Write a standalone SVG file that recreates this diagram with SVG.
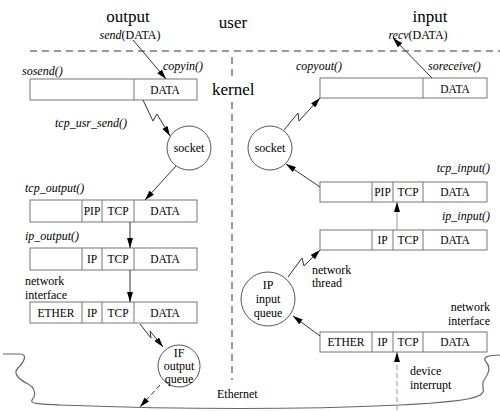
<svg xmlns="http://www.w3.org/2000/svg" width="500" height="411" viewBox="0 0 500 411">
<defs>
<marker id="ah" viewBox="0 0 10 6" refX="10" refY="3" markerWidth="10" markerHeight="6" markerUnits="userSpaceOnUse" orient="auto">
<path d="M0,0 L10,3 L0,6 z" fill="#000"/>
</marker>
<style>
text{font-family:"Liberation Serif","DejaVu Serif",serif;fill:#000}
.big{font-size:17px}
.lab{font-size:12px;font-style:italic}
.n{font-style:normal}
.t{font-size:12px}
.bx{font-size:11.5px;text-anchor:middle}
.c{text-anchor:middle}
.r{text-anchor:end}
.box{fill:#fff;stroke:#777;stroke-width:1}
.div{stroke:#777;stroke-width:1}
.circ{fill:#fff;stroke:#555;stroke-width:1}
.ln{fill:none;stroke:#333;stroke-width:1;marker-end:url(#ah)}
.gl{fill:none;stroke:#aaa;stroke-width:1.2;marker-end:url(#ah)}
.dash{fill:none;stroke:#777;stroke-width:1.5;stroke-dasharray:7 5}
</style>
</defs>
<g id="labels">
<text class="big c" x="128" y="22">output</text>
<text class="lab c" x="130" y="39">send<tspan class="n">(DATA)</tspan></text>
<text class="big c" x="233" y="28">user</text>
<text class="big c" x="430" y="22">input</text>
<text class="lab c" x="418" y="39">recv<tspan class="n">(DATA)</tspan></text>
<text class="big" x="212" y="95">kernel</text>
<text class="t" x="217" y="398">Ethernet</text>
</g>
<g id="boundaries">
<line class="dash" x1="30" y1="51" x2="500" y2="51"/>
<line class="dash" x1="232" y1="57" x2="232" y2="80"/>
<line class="dash" x1="232" y1="102" x2="232" y2="380"/>
<path d="M3,354 H20 C28,354 24,362 18,368 C12,374 20,380 28,384 C36,388 36,396 32,400 C30,404 40,404 60,405 Q250,412 400,405 C440,403 470,400 478,396 C488,392 480,386 484,380 C490,372 490,366 486,362 C482,357 488,355 500,355" fill="none" stroke="#666" stroke-width="1.2"/>
</g>
<g id="sosend">
<text class="lab" x="22" y="75">sosend()</text>
<text class="lab" x="163" y="70">copyin()</text>
<rect class="box" x="30" y="79" width="167" height="21"/>
<line class="div" x1="134" y1="79" x2="134" y2="100"/>
<text class="bx" x="165" y="94">DATA</text>
</g>
<g id="socket-out">
<circle class="circ" cx="189" cy="148" r="22"/>
<text class="t c" x="189" y="152">socket</text>
<text class="lab" x="55" y="127">tcp_usr_send()</text>
</g>
<g id="tcp-output">
<text class="lab" x="25" y="192">tcp_output()</text>
<rect class="box" x="30" y="200" width="167" height="22"/>
<line class="div" x1="82" y1="200" x2="82" y2="222"/>
<line class="div" x1="102" y1="200" x2="102" y2="222"/>
<line class="div" x1="134" y1="200" x2="134" y2="222"/>
<text class="bx" x="92" y="215">PIP</text>
<text class="bx" x="118" y="215">TCP</text>
<text class="bx" x="165" y="215">DATA</text>
</g>
<g id="ip-output">
<text class="lab" x="25" y="240">ip_output()</text>
<rect class="box" x="30" y="248" width="167" height="22"/>
<line class="div" x1="82" y1="248" x2="82" y2="270"/>
<line class="div" x1="102" y1="248" x2="102" y2="270"/>
<line class="div" x1="134" y1="248" x2="134" y2="270"/>
<text class="bx" x="92" y="263">IP</text>
<text class="bx" x="118" y="263">TCP</text>
<text class="bx" x="165" y="263">DATA</text>
</g>
<g id="if-out">
<text class="t" x="25" y="285">network</text>
<text class="t" x="25" y="299">interface</text>
<rect class="box" x="30" y="302" width="167" height="21"/>
<line class="div" x1="82" y1="302" x2="82" y2="323"/>
<line class="div" x1="102" y1="302" x2="102" y2="323"/>
<line class="div" x1="134" y1="302" x2="134" y2="323"/>
<text class="bx" x="56" y="317">ETHER</text>
<text class="bx" x="92" y="317">IP</text>
<text class="bx" x="118" y="317">TCP</text>
<text class="bx" x="165" y="317">DATA</text>
</g>
<g id="if-queue">
<circle class="circ" cx="179" cy="366" r="21"/>
<text class="t c" x="179" y="357">IF</text>
<text class="t c" x="179" y="370">output</text>
<text class="t c" x="179" y="383">queue</text>
</g>
<g id="soreceive">
<text class="lab" x="296" y="70">copyout()</text>
<text class="lab" x="428" y="70">soreceive()</text>
<rect class="box" x="320" y="78" width="167" height="20"/>
<line class="div" x1="423" y1="78" x2="423" y2="98"/>
<text class="bx" x="455" y="93">DATA</text>
</g>
<g id="socket-in">
<circle class="circ" cx="270" cy="148" r="22"/>
<text class="t c" x="270" y="152">socket</text>
</g>
<g id="tcp-input">
<text class="lab r" x="490" y="172">tcp_input()</text>
<rect class="box" x="320" y="182" width="167" height="20"/>
<line class="div" x1="372" y1="182" x2="372" y2="202"/>
<line class="div" x1="393" y1="182" x2="393" y2="202"/>
<line class="div" x1="423" y1="182" x2="423" y2="202"/>
<text class="bx" x="382.5" y="196">PIP</text>
<text class="bx" x="408" y="196">TCP</text>
<text class="bx" x="455" y="196">DATA</text>
</g>
<g id="ip-input">
<text class="lab r" x="490" y="220">ip_input()</text>
<rect class="box" x="320" y="230" width="167" height="20"/>
<line class="div" x1="372" y1="230" x2="372" y2="250"/>
<line class="div" x1="393" y1="230" x2="393" y2="250"/>
<line class="div" x1="423" y1="230" x2="423" y2="250"/>
<text class="bx" x="382.5" y="244">IP</text>
<text class="bx" x="408" y="244">TCP</text>
<text class="bx" x="455" y="244">DATA</text>
</g>
<g id="ip-queue">
<circle class="circ" cx="268" cy="299" r="27"/>
<text class="t c" x="268" y="289">IP</text>
<text class="t c" x="268" y="303">input</text>
<text class="t c" x="268" y="317">queue</text>
<text class="t" x="312" y="274">network</text>
<text class="t" x="312" y="287">thread</text>
</g>
<g id="if-in">
<text class="t r" x="490" y="311">network</text>
<text class="t r" x="490" y="325">interface</text>
<rect class="box" x="320" y="332" width="167" height="20"/>
<line class="div" x1="372" y1="332" x2="372" y2="352"/>
<line class="div" x1="393" y1="332" x2="393" y2="352"/>
<line class="div" x1="423" y1="332" x2="423" y2="352"/>
<text class="bx" x="346" y="346">ETHER</text>
<text class="bx" x="382.5" y="346">IP</text>
<text class="bx" x="408" y="346">TCP</text>
<text class="bx" x="455" y="346">DATA</text>
<text class="t" x="410" y="375">device</text>
<text class="t" x="410" y="389">interrupt</text>
</g>
<g id="connectors">
<line class="ln" x1="133" y1="40" x2="166" y2="79"/>
<polyline class="ln" points="143,100 153,121 157,114 170,136"/>
<line class="ln" x1="176" y1="166" x2="145" y2="200"/>
<line class="ln" x1="130" y1="222" x2="130" y2="248"/>
<line class="ln" x1="130" y1="270" x2="130" y2="302"/>
<polyline class="ln" points="140,324 151,338 150,331 163,347"/>
<line class="ln" x1="160" y1="385" x2="140" y2="407" stroke-dasharray="5 3"/>
<line class="ln" x1="432" y1="78" x2="393" y2="38"/>
<polyline class="ln" points="284,130 298,113 299,121 320,98"/>
<line class="ln" x1="320" y1="187" x2="286" y2="164"/>
<line class="gl" x1="397" y1="230" x2="397" y2="202"/>
<polyline class="ln" points="288,277 302,258 304,266 320,250"/>
<line class="ln" x1="320" y1="336" x2="293" y2="316"/>
<line class="gl" x1="397" y1="410" x2="397" y2="352" stroke-dasharray="5 3"/>
</g>
</svg>
